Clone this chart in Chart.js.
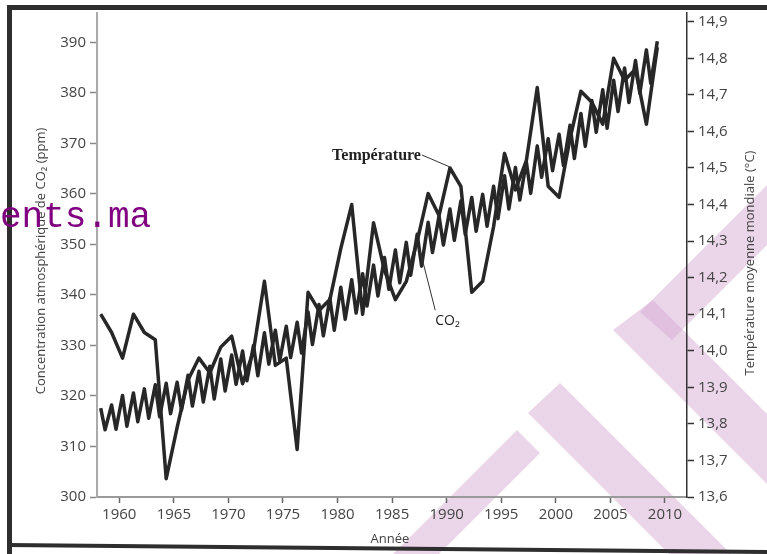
<!DOCTYPE html>
<html><head><meta charset="utf-8">
<script src="https://cdn.jsdelivr.net/npm/chart.js@4.4.1/dist/chart.umd.min.js"></script>
<style>html,body{margin:0;padding:0;background:#fff;}#wrap{width:767px;height:554px;}</style>
</head><body><div id="wrap"><canvas id="c" width="767" height="554"></canvas></div>
<script>
// ---- data ----
const years = [1958,1959,1960,1961,1962,1963,1964,1965,1966,1967,1968,1969,1970,1971,1972,1973,1974,1975,1976,1977,1978,1979,1980,1981,1982,1983,1984,1985,1986,1987,1988,1989,1990,1991,1992,1993,1994,1995,1996,1997,1998,1999,2000,2001,2002,2003,2004,2005,2006,2007,2008,2009];
const temperature = [14.10,14.05,13.98,14.10,14.05,14.03,13.65,13.79,13.92,13.98,13.94,14.01,14.04,13.91,14.00,14.19,13.96,13.98,13.73,14.16,14.11,14.14,14.28,14.40,14.10,14.35,14.22,14.14,14.19,14.30,14.43,14.37,14.50,14.45,14.16,14.19,14.34,14.54,14.44,14.52,14.72,14.45,14.42,14.58,14.71,14.68,14.62,14.80,14.74,14.77,14.62,14.83];
const co2SpringPeak = [317.6,318.2,320.1,320.6,321.4,322.2,322.5,322.7,324.1,324.9,325.9,327.3,328.1,328.9,330.0,332.5,333.0,333.8,334.6,336.6,338.1,339.3,341.5,343.0,344.2,345.9,347.4,348.9,350.4,352.0,354.4,355.6,357.0,358.6,359.3,359.9,361.5,363.6,365.2,366.3,369.5,370.9,371.8,373.6,375.9,378.5,380.6,382.5,384.9,386.4,388.5,390.2];
const co2AutumnLow = [313.3,313.4,314.0,314.9,315.6,315.9,316.5,317.2,318.0,318.8,319.4,321.0,322.3,323.0,324.0,326.3,327.0,327.6,328.5,330.2,331.9,333.0,335.2,336.4,337.8,339.8,341.1,342.4,343.9,345.7,348.4,349.9,350.8,352.0,352.6,353.6,355.1,357.0,358.8,360.1,363.3,364.6,365.6,367.0,369.4,372.2,373.0,376.3,378.1,379.9,381.9];
const xTickLabels = [1960,1965,1970,1975,1980,1985,1990,1995,2000,2005,2010];
const co2TickLabels = [300,310,320,330,340,350,360,370,380,390];
const tempTickLabels = [13.6,13.7,13.8,13.9,14.0,14.1,14.2,14.3,14.4,14.5,14.6,14.7,14.8,14.9];

// build series
const co2Points = [];
years.forEach((yr, i) => {
  co2Points.push({x: yr + 0.3, y: co2SpringPeak[i]});
  if (i < co2AutumnLow.length) co2Points.push({x: yr + 0.7, y: co2AutumnLow[i]});
});
const tempPoints = years.map((yr, i) => ({x: yr + 0.3, y: temperature[i]}));

const TICK_FONT = {family: '"Open Sans","Noto Sans",sans-serif', size: 15};
const LINE = '#272727';

const deco = {
  id: 'deco',
  beforeDraw(chart) {
    const ctx = chart.ctx;
    ctx.save();
    ctx.fillStyle = '#ffffff';
    ctx.fillRect(0, 0, chart.width, chart.height);
    ctx.fillStyle = 'rgba(214,172,212,0.5)';
    const polys = [
      [[528,413],[560,383],[731,554],[669,554]],
      [[517,430],[540,453],[439,554],[393,554]],
      [[613,330],[653,300],[767,414],[767,484]],
      [[640,312],[767,185],[767,245],[672,340]]
    ];
    polys.forEach(p => {
      ctx.beginPath();
      ctx.moveTo(p[0][0], p[0][1]);
      for (let k = 1; k < p.length; k++) ctx.lineTo(p[k][0], p[k][1]);
      ctx.closePath();
      ctx.fill();
    });
    ctx.restore();
  },
  afterDraw(chart) {
    const ctx = chart.ctx;
    const xs = chart.scales.x, ys = chart.scales.y, yt = chart.scales.y1;
    ctx.save();
    ctx.fillStyle = '#444';
    ctx.textBaseline = 'middle';
    ctx.textAlign = 'center';
    ctx.font = '13px "Open Sans","Noto Sans",sans-serif';
    // left title
    ctx.save();
    ctx.translate(41, 261);
    ctx.rotate(-Math.PI / 2);
    ctx.fillText('Concentration atmosphérique de CO₂ (ppm)', 0, 0);
    ctx.restore();
    // right title
    ctx.save();
    ctx.translate(750, 263);
    ctx.rotate(-Math.PI / 2);
    ctx.fillText('Température moyenne mondiale (°C)', 0, 0);
    ctx.restore();
    // x title
    ctx.fillText('Année', 390, 539);

    // annotations
    ctx.fillStyle = '#222';
    ctx.strokeStyle = '#333';
    ctx.lineWidth = 1;
    ctx.textAlign = 'left';
    ctx.font = 'bold 16px "Liberation Serif",serif';
    const tx = xs.getPixelForValue(1979.5), ty = ys.getPixelForValue(367.5);
    ctx.fillText('Température', tx, ty);
    const tw = ctx.measureText('Température').width;
    const pI = years.indexOf(1990);
    ctx.beginPath();
    ctx.moveTo(tx + tw + 1, ty - 1);
    ctx.lineTo(xs.getPixelForValue(tempPoints[pI].x), yt.getPixelForValue(temperature[pI]) - 1);
    ctx.stroke();

    ctx.font = '14px "Open Sans","Noto Sans",sans-serif';
    const cx = xs.getPixelForValue(1988.95), cy = ys.getPixelForValue(334.8);
    ctx.fillText('CO₂', cx, cy);
    ctx.beginPath();
    ctx.moveTo(cx, cy - 11);
    ctx.lineTo(xs.getPixelForValue(1987.5), ys.getPixelForValue(349.3));
    ctx.stroke();

    // frame
    ctx.strokeStyle = '#2e2e2e';
    ctx.lineWidth = 5;
    ctx.beginPath();
    ctx.moveTo(9.5, 554); ctx.lineTo(9.5, 7.5); ctx.lineTo(767, 7.5);
    ctx.stroke();
    ctx.lineWidth = 4;
    ctx.beginPath();
    ctx.moveTo(7, 545); ctx.lineTo(767, 552);
    ctx.stroke();

    // watermark text
    ctx.fillStyle = '#800080';
    ctx.textBaseline = 'alphabetic';
    ctx.font = '36px "Liberation Mono",monospace';
    ctx.fillText('ents.ma', 0, 227);
    ctx.restore();
  }
};

new Chart(document.getElementById('c'), {
  type: 'line',
  data: {
    datasets: [
      {label: 'CO2', data: co2Points, yAxisID: 'y', borderColor: LINE, borderWidth: 3.5, pointRadius: 0, tension: 0, borderJoinStyle: 'round', fill: false},
      {label: 'Température', data: tempPoints, yAxisID: 'y1', borderColor: LINE, borderWidth: 3.5, pointRadius: 0, tension: 0, borderJoinStyle: 'round', fill: false}
    ]
  },
  options: {
    responsive: false,
    animation: false,
    devicePixelRatio: 1,
    layout: {padding: {top: 13, left: 0, right: 0, bottom: 0}},
    plugins: {legend: {display: false}, tooltip: {enabled: false}},
    scales: {
      x: {
        type: 'linear', min: 1957.96, max: 2012.02,
        afterBuildTicks: s => { s.ticks = xTickLabels.map(v => ({value: v})); },
        afterFit: s => { s.height = 57; s.paddingLeft = 0; s.paddingRight = 0; },
        ticks: {font: TICK_FONT, color: '#444', padding: 3, maxRotation: 0, autoSkip: false, callback: v => String(v)},
        grid: {drawOnChartArea: false, drawTicks: true, tickLength: 6, tickColor: '#666', tickWidth: 1.5},
        border: {display: true, color: '#9a9a9a', width: 2}
      },
      y: {
        type: 'linear', position: 'left', min: 300, max: 395.8,
        afterBuildTicks: s => { s.ticks = co2TickLabels.map(v => ({value: v})); },
        afterFit: s => { s.width = 97; s.paddingTop = 0; s.paddingBottom = 0; },
        ticks: {font: TICK_FONT, color: '#444', padding: 4, autoSkip: false, callback: v => String(v)},
        grid: {drawOnChartArea: false, drawTicks: true, tickLength: 7, tickColor: '#888', tickWidth: 1.5},
        border: {display: true, color: '#aaaaaa', width: 2}
      },
      y1: {
        type: 'linear', position: 'right', min: 13.6, max: 14.924,
        afterBuildTicks: s => { s.ticks = tempTickLabels.map(v => ({value: v})); },
        afterFit: s => { s.width = 80; s.paddingTop = 0; s.paddingBottom = 0; },
        ticks: {font: TICK_FONT, color: '#444', padding: 4, autoSkip: false, callback: v => Number(v).toFixed(1).replace('.', ',')},
        grid: {drawOnChartArea: false, drawTicks: true, tickLength: 7, tickColor: '#333', tickWidth: 1.5},
        border: {display: true, color: '#333', width: 1.5}
      }
    }
  },
  plugins: [deco]
});
</script>
</body></html>
